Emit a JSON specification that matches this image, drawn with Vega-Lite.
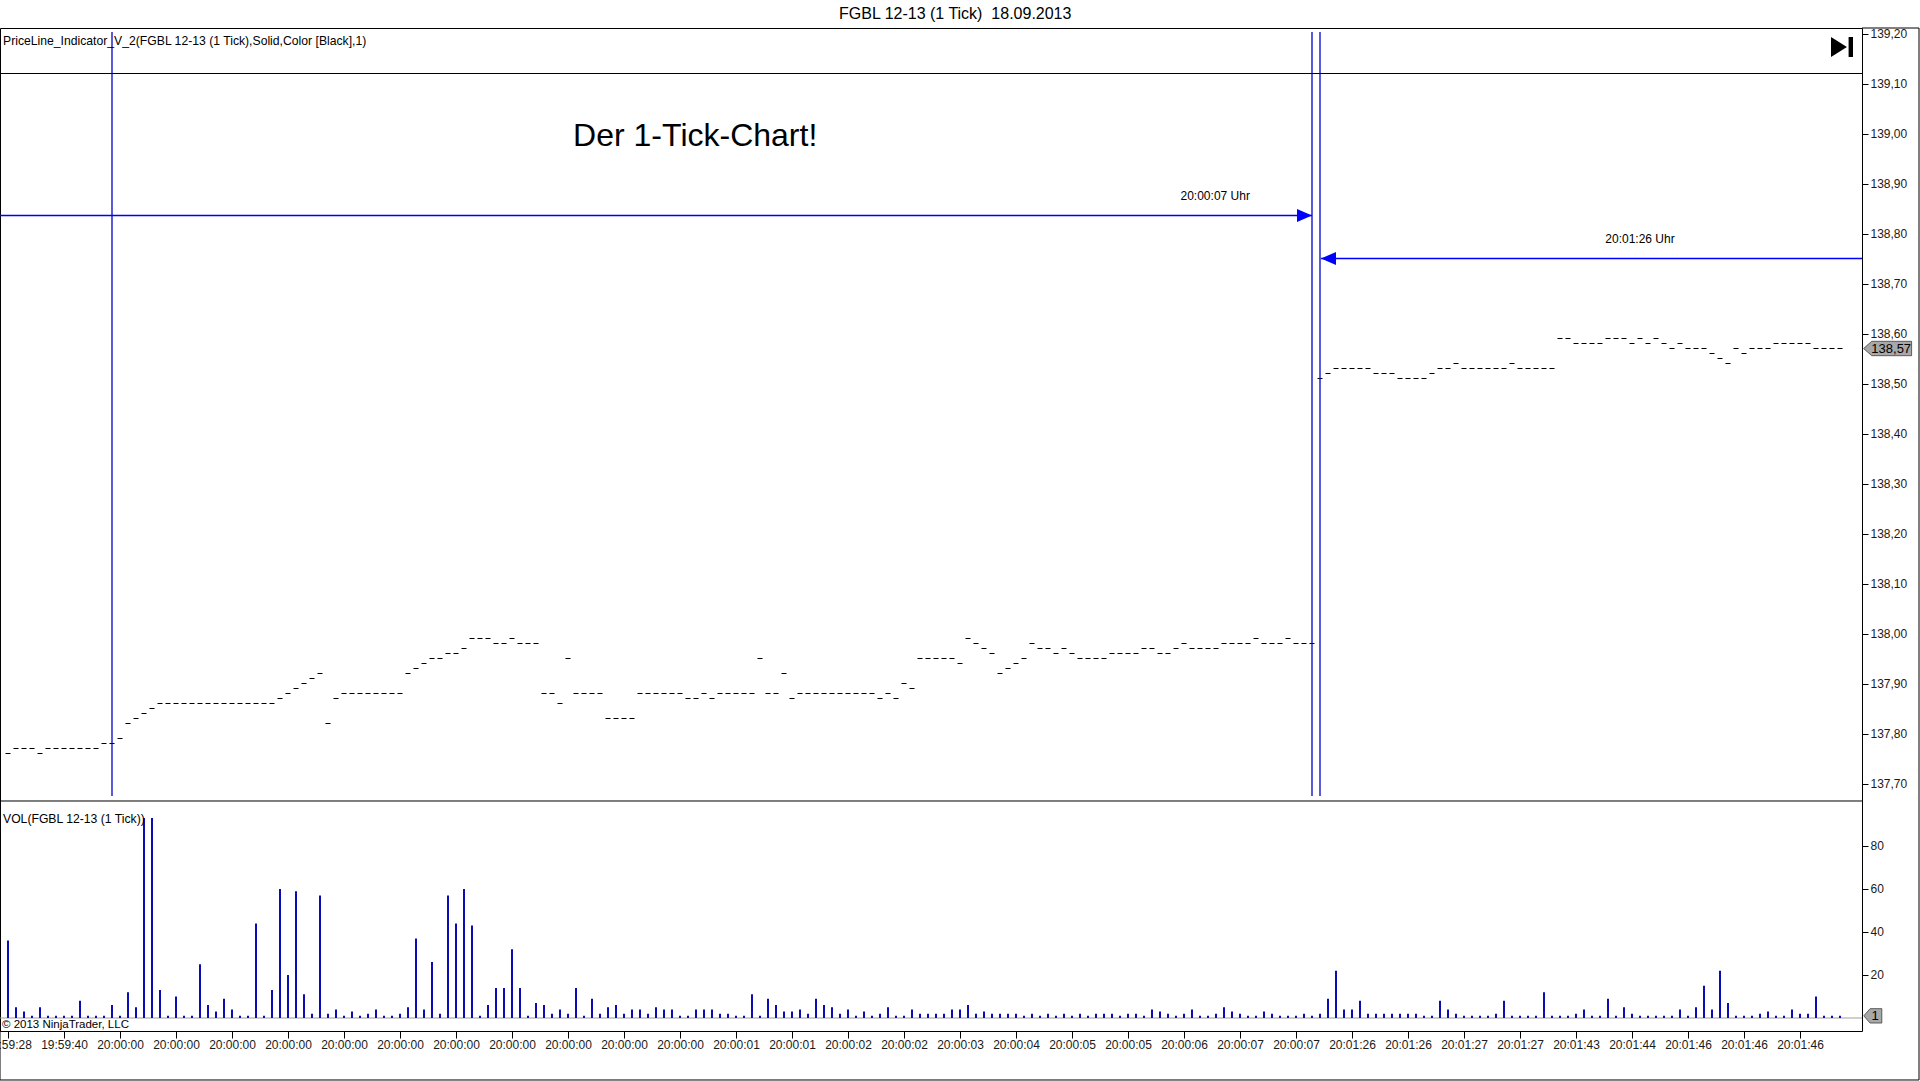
{
"$schema": "https://vega.github.io/schema/vega-lite/v6.json",
"width": 1862,
"height": 1003,
"autosize": {"type": "none"},
"padding": {"left": 0, "top": 28, "right": 58, "bottom": 50},
"background": "white",
"config": {
  "view": {"stroke": "#000", "strokeWidth": 1},
  "font": "Liberation Sans",
  "locale": {"number": {"decimal": ",", "thousands": ".", "grouping": [3], "currency": ["", " €"]}},
  "axis": {"domain": false, "grid": false, "tickColor": "#000", "labelColor": "#1a1a1a", "labelFont": "Liberation Sans", "labelFontSize": 12}
},
"datasets": {
  "bars": [
{"i":0,"price":137.76,"vol":36},{"i":1,"price":137.77,"vol":5},{"i":2,"price":137.77,"vol":3},{"i":3,"price":137.77,"vol":1},{"i":4,"price":137.76,"vol":5},
{"i":5,"price":137.77,"vol":1},{"i":6,"price":137.77,"vol":1},{"i":7,"price":137.77,"vol":1},{"i":8,"price":137.77,"vol":1},{"i":9,"price":137.77,"vol":8},
{"i":10,"price":137.77,"vol":1},{"i":11,"price":137.77,"vol":1},{"i":12,"price":137.78,"vol":1},{"i":13,"price":137.78,"vol":6},{"i":14,"price":137.79,"vol":1},
{"i":15,"price":137.82,"vol":12},{"i":16,"price":137.83,"vol":5},{"i":17,"price":137.84,"vol":93},{"i":18,"price":137.85,"vol":93},{"i":19,"price":137.86,"vol":13},
{"i":20,"price":137.86,"vol":1},{"i":21,"price":137.86,"vol":10},{"i":22,"price":137.86,"vol":1},{"i":23,"price":137.86,"vol":1},{"i":24,"price":137.86,"vol":25},
{"i":25,"price":137.86,"vol":6},{"i":26,"price":137.86,"vol":3},{"i":27,"price":137.86,"vol":9},{"i":28,"price":137.86,"vol":4},{"i":29,"price":137.86,"vol":1},
{"i":30,"price":137.86,"vol":1},{"i":31,"price":137.86,"vol":44},{"i":32,"price":137.86,"vol":1},{"i":33,"price":137.86,"vol":13},{"i":34,"price":137.87,"vol":60},
{"i":35,"price":137.88,"vol":20},{"i":36,"price":137.89,"vol":59},{"i":37,"price":137.90,"vol":11},{"i":38,"price":137.91,"vol":2},{"i":39,"price":137.92,"vol":57},
{"i":40,"price":137.82,"vol":2},{"i":41,"price":137.87,"vol":4},{"i":42,"price":137.88,"vol":1},{"i":43,"price":137.88,"vol":3},{"i":44,"price":137.88,"vol":1},
{"i":45,"price":137.88,"vol":2},{"i":46,"price":137.88,"vol":4},{"i":47,"price":137.88,"vol":1},{"i":48,"price":137.88,"vol":1},{"i":49,"price":137.88,"vol":2},
{"i":50,"price":137.92,"vol":5},{"i":51,"price":137.93,"vol":37},{"i":52,"price":137.94,"vol":4},{"i":53,"price":137.95,"vol":26},{"i":54,"price":137.95,"vol":2},
{"i":55,"price":137.96,"vol":57},{"i":56,"price":137.96,"vol":44},{"i":57,"price":137.97,"vol":60},{"i":58,"price":137.99,"vol":43},{"i":59,"price":137.99,"vol":1},
{"i":60,"price":137.99,"vol":6},{"i":61,"price":137.98,"vol":14},{"i":62,"price":137.98,"vol":14},{"i":63,"price":137.99,"vol":32},{"i":64,"price":137.98,"vol":14},
{"i":65,"price":137.98,"vol":1},{"i":66,"price":137.98,"vol":7},{"i":67,"price":137.88,"vol":6},{"i":68,"price":137.88,"vol":2},{"i":69,"price":137.86,"vol":4},
{"i":70,"price":137.95,"vol":2},{"i":71,"price":137.88,"vol":14},{"i":72,"price":137.88,"vol":1},{"i":73,"price":137.88,"vol":9},{"i":74,"price":137.88,"vol":2},
{"i":75,"price":137.83,"vol":5},{"i":76,"price":137.83,"vol":6},{"i":77,"price":137.83,"vol":2},{"i":78,"price":137.83,"vol":4},{"i":79,"price":137.88,"vol":4},
{"i":80,"price":137.88,"vol":2},{"i":81,"price":137.88,"vol":5},{"i":82,"price":137.88,"vol":4},{"i":83,"price":137.88,"vol":4},{"i":84,"price":137.88,"vol":1},
{"i":85,"price":137.87,"vol":1},{"i":86,"price":137.87,"vol":4},{"i":87,"price":137.88,"vol":4},{"i":88,"price":137.87,"vol":4},{"i":89,"price":137.88,"vol":2},
{"i":90,"price":137.88,"vol":2},{"i":91,"price":137.88,"vol":1},{"i":92,"price":137.88,"vol":1},{"i":93,"price":137.88,"vol":11},{"i":94,"price":137.95,"vol":1},
{"i":95,"price":137.88,"vol":9},{"i":96,"price":137.88,"vol":6},{"i":97,"price":137.92,"vol":3},{"i":98,"price":137.87,"vol":3},{"i":99,"price":137.88,"vol":4},
{"i":100,"price":137.88,"vol":2},{"i":101,"price":137.88,"vol":9},{"i":102,"price":137.88,"vol":6},{"i":103,"price":137.88,"vol":5},{"i":104,"price":137.88,"vol":2},
{"i":105,"price":137.88,"vol":4},{"i":106,"price":137.88,"vol":1},{"i":107,"price":137.88,"vol":3},{"i":108,"price":137.88,"vol":1},{"i":109,"price":137.87,"vol":2},
{"i":110,"price":137.88,"vol":5},{"i":111,"price":137.87,"vol":1},{"i":112,"price":137.90,"vol":1},{"i":113,"price":137.89,"vol":4},{"i":114,"price":137.95,"vol":2},
{"i":115,"price":137.95,"vol":2},{"i":116,"price":137.95,"vol":2},{"i":117,"price":137.95,"vol":2},{"i":118,"price":137.95,"vol":4},{"i":119,"price":137.94,"vol":4},
{"i":120,"price":137.99,"vol":6},{"i":121,"price":137.98,"vol":2},{"i":122,"price":137.97,"vol":3},{"i":123,"price":137.96,"vol":2},{"i":124,"price":137.92,"vol":2},
{"i":125,"price":137.93,"vol":2},{"i":126,"price":137.94,"vol":2},{"i":127,"price":137.95,"vol":1},{"i":128,"price":137.98,"vol":2},{"i":129,"price":137.97,"vol":1},
{"i":130,"price":137.97,"vol":2},{"i":131,"price":137.96,"vol":1},{"i":132,"price":137.97,"vol":2},{"i":133,"price":137.96,"vol":1},{"i":134,"price":137.95,"vol":2},
{"i":135,"price":137.95,"vol":1},{"i":136,"price":137.95,"vol":2},{"i":137,"price":137.95,"vol":2},{"i":138,"price":137.96,"vol":2},{"i":139,"price":137.96,"vol":1},
{"i":140,"price":137.96,"vol":2},{"i":141,"price":137.96,"vol":2},{"i":142,"price":137.97,"vol":1},{"i":143,"price":137.97,"vol":4},{"i":144,"price":137.96,"vol":3},
{"i":145,"price":137.96,"vol":2},{"i":146,"price":137.97,"vol":1},{"i":147,"price":137.98,"vol":2},{"i":148,"price":137.97,"vol":4},{"i":149,"price":137.97,"vol":1},
{"i":150,"price":137.97,"vol":1},{"i":151,"price":137.97,"vol":2},{"i":152,"price":137.98,"vol":5},{"i":153,"price":137.98,"vol":3},{"i":154,"price":137.98,"vol":2},
{"i":155,"price":137.98,"vol":1},{"i":156,"price":137.99,"vol":1},{"i":157,"price":137.98,"vol":3},{"i":158,"price":137.98,"vol":2},{"i":159,"price":137.98,"vol":1},
{"i":160,"price":137.99,"vol":1},{"i":161,"price":137.98,"vol":1},{"i":162,"price":137.98,"vol":2},{"i":163,"price":137.98,"vol":1},{"i":164,"price":138.51,"vol":2},
{"i":165,"price":138.52,"vol":9},{"i":166,"price":138.53,"vol":22},{"i":167,"price":138.53,"vol":4},{"i":168,"price":138.53,"vol":4},{"i":169,"price":138.53,"vol":8},
{"i":170,"price":138.53,"vol":2},{"i":171,"price":138.52,"vol":2},{"i":172,"price":138.52,"vol":2},{"i":173,"price":138.52,"vol":2},{"i":174,"price":138.51,"vol":2},
{"i":175,"price":138.51,"vol":2},{"i":176,"price":138.51,"vol":2},{"i":177,"price":138.51,"vol":1},{"i":178,"price":138.52,"vol":1},{"i":179,"price":138.53,"vol":8},
{"i":180,"price":138.53,"vol":4},{"i":181,"price":138.54,"vol":2},{"i":182,"price":138.53,"vol":1},{"i":183,"price":138.53,"vol":1},{"i":184,"price":138.53,"vol":1},
{"i":185,"price":138.53,"vol":1},{"i":186,"price":138.53,"vol":2},{"i":187,"price":138.53,"vol":8},{"i":188,"price":138.54,"vol":1},{"i":189,"price":138.53,"vol":1},
{"i":190,"price":138.53,"vol":1},{"i":191,"price":138.53,"vol":1},{"i":192,"price":138.53,"vol":12},{"i":193,"price":138.53,"vol":1},{"i":194,"price":138.59,"vol":1},
{"i":195,"price":138.59,"vol":1},{"i":196,"price":138.58,"vol":2},{"i":197,"price":138.58,"vol":4},{"i":198,"price":138.58,"vol":1},{"i":199,"price":138.58,"vol":1},
{"i":200,"price":138.59,"vol":9},{"i":201,"price":138.59,"vol":1},{"i":202,"price":138.59,"vol":5},{"i":203,"price":138.58,"vol":2},{"i":204,"price":138.59,"vol":1},
{"i":205,"price":138.58,"vol":1},{"i":206,"price":138.59,"vol":1},{"i":207,"price":138.58,"vol":1},{"i":208,"price":138.57,"vol":1},{"i":209,"price":138.58,"vol":4},
{"i":210,"price":138.57,"vol":1},{"i":211,"price":138.57,"vol":5},{"i":212,"price":138.57,"vol":15},{"i":213,"price":138.56,"vol":4},{"i":214,"price":138.55,"vol":22},
{"i":215,"price":138.54,"vol":7},{"i":216,"price":138.57,"vol":1},{"i":217,"price":138.56,"vol":1},{"i":218,"price":138.57,"vol":1},{"i":219,"price":138.57,"vol":2},
{"i":220,"price":138.57,"vol":3},{"i":221,"price":138.58,"vol":1},{"i":222,"price":138.58,"vol":1},{"i":223,"price":138.58,"vol":4},{"i":224,"price":138.58,"vol":2},
{"i":225,"price":138.58,"vol":2},{"i":226,"price":138.57,"vol":10},{"i":227,"price":138.57,"vol":1},{"i":228,"price":138.57,"vol":1},{"i":229,"price":138.57,"vol":1}
  ],
  "events": [{"bar": 13}, {"bar": 163}, {"bar": 164}],
  "arrows": [
    {"label": "20:00:07 Uhr", "from": -1, "to": 163, "tip": 163, "price": 138.836, "dir": "right", "labelAt": 150.9},
    {"label": "20:01:26 Uhr", "from": 164.125, "to": 231.75, "tip": 164.125, "price": 138.75, "dir": "left", "labelAt": 204}
  ]
},
"layer": [
  {
    "layer": [
      {
        "data": {"name": "bars"},
        "mark": {"type": "tick", "orient": "horizontal", "size": 5, "thickness": 1, "color": "#000", "opacity": 1},
        "encoding": {
          "x": {"field": "i", "type": "quantitative", "title": null, "scale": {"domain": [-1, 231.75], "nice": false, "zero": false},
                "axis": {"orient": "bottom", "values": [0,7,14,21,28,35,42,49,56,63,70,77,84,91,98,105,112,119,126,133,140,147,154,161,168,175,182,189,196,203,210,217,224],
                         "tickSize": 7, "labelPadding": 1, "labelFlush": false, "labelOverlap": false,
                         "labelExpr": "['19:59:28','19:59:40','20:00:00','20:00:00','20:00:00','20:00:00','20:00:00','20:00:00','20:00:00','20:00:00','20:00:00','20:00:00','20:00:00','20:00:01','20:00:01','20:00:02','20:00:02','20:00:03','20:00:04','20:00:05','20:00:05','20:00:06','20:00:07','20:00:07','20:01:26','20:01:26','20:01:27','20:01:27','20:01:43','20:01:44','20:01:46','20:01:46','20:01:46'][round(datum.value/7)]"}},
          "y": {"field": "price", "type": "quantitative", "title": null, "scale": {"domain": [137.205, 139.211], "nice": false, "zero": false},
                "axis": {"orient": "right", "values": [137.7,137.8,137.9,138.0,138.1,138.2,138.3,138.4,138.5,138.6,138.7,138.8,138.9,139.0,139.1,139.2], "format": ".2f", "tickSize": 6, "labelPadding": 2}}
        }
      },
      {
        "data": {"values": [{"name": "PriceLine", "price": 139.12}]},
        "mark": {"type": "rule", "color": "#000", "strokeWidth": 1},
        "encoding": {"y": {"field": "price", "type": "quantitative", "title": null}, "x": {"datum": -1, "type": "quantitative"}, "x2": {"datum": 231.75}}
      },
      {
        "data": {"name": "events"},
        "mark": {"type": "rule", "color": "#0000c8", "strokeWidth": 1.3},
        "encoding": {"x": {"field": "bar", "type": "quantitative", "title": null}, "y": {"datum": 139.203, "type": "quantitative"}, "y2": {"datum": 137.675}}
      },
      {
        "data": {"name": "arrows"},
        "mark": {"type": "rule", "color": "#0000ff", "strokeWidth": 1.3},
        "encoding": {"x": {"field": "from", "type": "quantitative", "title": null}, "x2": {"field": "to"}, "y": {"field": "price", "type": "quantitative", "title": null}}
      },
      {
        "data": {"name": "arrows"},
        "mark": {"type": "point", "filled": true, "size": 225, "color": "#0000ff", "opacity": 1, "strokeWidth": 0},
        "encoding": {"x": {"field": "tip", "type": "quantitative", "title": null}, "y": {"field": "price", "type": "quantitative", "title": null},
                     "shape": {"field": "dir", "type": "nominal", "scale": {"domain": ["right", "left"], "range": ["M-2,-0.867L0,0L-2,0.867Z", "M2,-0.867L0,0L2,0.867Z"]}, "legend": null}}
      },
      {
        "data": {"name": "arrows"},
        "mark": {"type": "text", "fontSize": 12, "color": "#000", "dy": -20, "baseline": "middle", "align": "center"},
        "encoding": {"x": {"field": "labelAt", "type": "quantitative", "title": null}, "y": {"field": "price", "type": "quantitative", "title": null}, "text": {"field": "label"}}
      },
      {
        "data": {"values": [{"note": "FGBL 12-13 (1 Tick) \u00a018.09.2013"}]},
        "mark": {"type": "text", "fontSize": 16, "color": "#000", "baseline": "middle", "align": "center", "clip": false},
        "encoding": {"x": {"datum": 118.4, "type": "quantitative"}, "y": {"datum": 139.24, "type": "quantitative"}, "text": {"field": "note"}}
      },
      {
        "data": {"values": [{"note": "Der 1-Tick-Chart!"}]},
        "mark": {"type": "text", "fontSize": 32, "color": "#000", "baseline": "middle", "align": "center"},
        "encoding": {"x": {"datum": 85.9, "type": "quantitative"}, "y": {"datum": 138.995, "type": "quantitative"}, "text": {"field": "note"}}
      },
      {
        "data": {"values": [{"note": "PriceLine_Indicator_V_2(FGBL 12-13 (1 Tick),Solid,Color [Black],1)"}]},
        "mark": {"type": "text", "fontSize": 12.2, "color": "#000", "baseline": "middle", "align": "left"},
        "encoding": {"x": {"datum": -0.625, "type": "quantitative"}, "y": {"datum": 139.1856, "type": "quantitative"}, "text": {"field": "note"}}
      },
      {
        "data": {"values": [{"button": "end"}]},
        "mark": {"type": "point", "filled": true, "size": 484, "color": "#000", "opacity": 1, "strokeWidth": 0, "shape": "M-1,-0.9L0.45,0L-1,0.9Z M0.6,-0.9L1,-0.9L1,0.9L0.6,0.9Z"},
        "encoding": {"x": {"datum": 229.25, "type": "quantitative"}, "y": {"datum": 139.173, "type": "quantitative"}}
      },
      {
        "data": {"name": "bars"},
        "transform": [{"filter": "datum.i == 229"}],
        "mark": {"type": "point", "filled": true, "size": 2304, "fill": "#a8a8a8", "stroke": "#404040", "strokeWidth": 0.8, "opacity": 1, "clip": false, "shape": "M-1,0L-0.66,-0.3L1,-0.3L1,0.3L-0.66,0.3Z"},
        "encoding": {"x": {"datum": 234.95, "type": "quantitative"}, "y": {"field": "price", "type": "quantitative", "title": null}}
      },
      {
        "data": {"name": "bars"},
        "transform": [{"filter": "datum.i == 229"}],
        "mark": {"type": "text", "fontSize": 13, "color": "#000", "baseline": "middle", "align": "center", "clip": false},
        "encoding": {"x": {"datum": 235.4, "type": "quantitative"}, "y": {"field": "price", "type": "quantitative", "title": null}, "text": {"field": "price", "format": ".2f"}}
      }
    ]
  },
  {
    "layer": [
      {
        "data": {"values": [{"line": "zero"}]},
        "mark": {"type": "rule", "color": "#a0a0a0", "strokeWidth": 1},
        "encoding": {"x": {"datum": -1, "type": "quantitative", "scale": {"domain": [-1, 231.75], "nice": false, "zero": false}}, "x2": {"datum": 231.75},
                     "y": {"datum": 0, "type": "quantitative", "scale": {"domain": [-6.05, 460.45], "nice": false, "zero": false},
                           "axis": {"orient": "right", "values": [20, 40, 60, 80], "format": "d", "tickSize": 6, "labelPadding": 2, "title": null}}}
      },
      {
        "data": {"name": "bars"},
        "mark": {"type": "rule", "color": "#0c0cb4", "strokeWidth": 2},
        "encoding": {"x": {"field": "i", "type": "quantitative", "title": null}, "y": {"field": "vol", "type": "quantitative", "title": null}, "y2": {"datum": 0}}
      },
      {
        "data": {"values": [{"line": "separator"}]},
        "mark": {"type": "rule", "color": "#000", "strokeWidth": 1},
        "encoding": {"x": {"datum": -1, "type": "quantitative"}, "x2": {"datum": 231.75}, "y": {"datum": 100.93, "type": "quantitative"}}
      },
      {
        "data": {"values": [{"note": "VOL(FGBL 12-13 (1 Tick))"}]},
        "mark": {"type": "text", "fontSize": 12.2, "color": "#000", "baseline": "middle", "align": "left"},
        "encoding": {"x": {"datum": -0.625, "type": "quantitative"}, "y": {"datum": 92.56, "type": "quantitative"}, "text": {"field": "note"}}
      },
      {
        "data": {"values": [{"note": "© 2013 NinjaTrader, LLC"}]},
        "mark": {"type": "text", "fontSize": 11.5, "color": "#000", "baseline": "middle", "align": "left"},
        "encoding": {"x": {"datum": -0.75, "type": "quantitative"}, "y": {"datum": -3.4, "type": "quantitative"}, "text": {"field": "note"}}
      },
      {
        "data": {"name": "bars"},
        "transform": [{"filter": "datum.i == 229"}],
        "mark": {"type": "point", "filled": true, "size": 324, "fill": "#a8a8a8", "stroke": "#404040", "strokeWidth": 0.8, "opacity": 1, "clip": false, "shape": "M-1,0L-0.3,-0.8L1,-0.8L1,0.8L-0.3,0.8Z"},
        "encoding": {"x": {"datum": 233.1, "type": "quantitative"}, "y": {"field": "vol", "type": "quantitative", "title": null}}
      },
      {
        "data": {"name": "bars"},
        "transform": [{"filter": "datum.i == 229"}],
        "mark": {"type": "text", "fontSize": 13, "color": "#000", "baseline": "middle", "align": "center", "clip": false},
        "encoding": {"x": {"datum": 233.4, "type": "quantitative"}, "y": {"field": "vol", "type": "quantitative", "title": null}, "text": {"field": "vol", "format": "d"}}
      },
      {
        "data": {"values": [{"edge": "right"}]},
        "mark": {"type": "rule", "color": "#000", "strokeWidth": 1, "clip": false},
        "encoding": {"x": {"datum": 238.875, "type": "quantitative"}, "y": {"datum": 460.45, "type": "quantitative"}, "y2": {"datum": -28.84}}
      },
      {
        "data": {"values": [{"edge": "bottom"}]},
        "mark": {"type": "rule", "color": "#000", "strokeWidth": 1, "clip": false},
        "encoding": {"x": {"datum": -1, "type": "quantitative"}, "x2": {"datum": 238.875}, "y": {"datum": -28.84, "type": "quantitative"}}
      },
      {
        "data": {"values": [{"edge": "top"}]},
        "mark": {"type": "rule", "color": "#000", "strokeWidth": 1, "clip": false},
        "encoding": {"x": {"datum": 231.75, "type": "quantitative"}, "x2": {"datum": 238.875}, "y": {"datum": 460.45, "type": "quantitative"}}
      },
      {
        "data": {"values": [{"edge": "left"}]},
        "mark": {"type": "rule", "color": "#000", "strokeWidth": 1, "clip": false},
        "encoding": {"x": {"datum": -1, "type": "quantitative"}, "y": {"datum": -6.05, "type": "quantitative"}, "y2": {"datum": -28.84}}
      }
    ]
  }
],
"resolve": {"scale": {"y": "independent"}}
}
